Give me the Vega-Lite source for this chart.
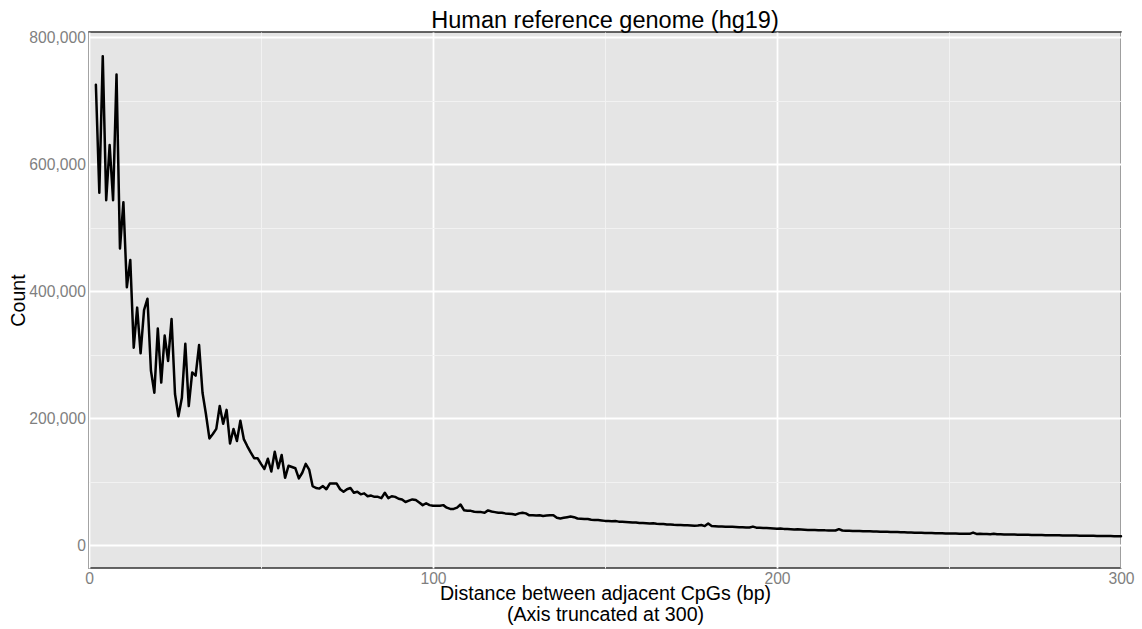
{
  "$schema": "https://vega.github.io/schema/vega-lite/v6.json",
  "width": 1032,
  "height": 536,
  "autosize": {"type": "none"},
  "padding": {"left": 89, "top": 32, "right": 21, "bottom": 61},
  "background": "white",
  "title": {"text": "Human reference genome (hg19)", "fontSize": 23.5, "fontWeight": "normal", "color": "#000000", "anchor": "middle", "frame": "group", "baseline": "alphabetic", "offset": 4, "dy": 26, "font": "Liberation Sans"},
  "config": {
    "font": "Liberation Sans",
    "view": {"fill": "#E5E5E5", "stroke": "#333333", "strokeWidth": 1.5}
  },
  "data": {"values": [
    {"distance": 2, "count": 725000}, {"distance": 3, "count": 555000}, {"distance": 4, "count": 770000}, {"distance": 5, "count": 543000},
    {"distance": 6, "count": 630000}, {"distance": 7, "count": 543000}, {"distance": 8, "count": 741000}, {"distance": 9, "count": 467000},
    {"distance": 10, "count": 540000}, {"distance": 11, "count": 406000}, {"distance": 12, "count": 449000}, {"distance": 13, "count": 311000},
    {"distance": 14, "count": 374000}, {"distance": 15, "count": 302000}, {"distance": 16, "count": 370000}, {"distance": 17, "count": 388000},
    {"distance": 18, "count": 275000}, {"distance": 19, "count": 240000}, {"distance": 20, "count": 341000}, {"distance": 21, "count": 256000},
    {"distance": 22, "count": 330000}, {"distance": 23, "count": 290000}, {"distance": 24, "count": 356000}, {"distance": 25, "count": 238000},
    {"distance": 26, "count": 203000}, {"distance": 27, "count": 232000}, {"distance": 28, "count": 317000}, {"distance": 29, "count": 219000},
    {"distance": 30, "count": 272000}, {"distance": 31, "count": 267000}, {"distance": 32, "count": 315000}, {"distance": 33, "count": 240000},
    {"distance": 34, "count": 206000}, {"distance": 35, "count": 168000}, {"distance": 36, "count": 175000}, {"distance": 37, "count": 183000},
    {"distance": 38, "count": 219000}, {"distance": 39, "count": 191000}, {"distance": 40, "count": 213000}, {"distance": 41, "count": 160000},
    {"distance": 42, "count": 183000}, {"distance": 43, "count": 164000}, {"distance": 44, "count": 196000}, {"distance": 45, "count": 167000},
    {"distance": 46, "count": 156000}, {"distance": 47, "count": 146000}, {"distance": 48, "count": 137000}, {"distance": 49, "count": 137000},
    {"distance": 50, "count": 128000}, {"distance": 51, "count": 120000}, {"distance": 52, "count": 136000}, {"distance": 53, "count": 116000},
    {"distance": 54, "count": 147000}, {"distance": 55, "count": 121000}, {"distance": 56, "count": 142000}, {"distance": 57, "count": 106000},
    {"distance": 58, "count": 125000}, {"distance": 59, "count": 123000}, {"distance": 60, "count": 121000}, {"distance": 61, "count": 105000},
    {"distance": 62, "count": 114000}, {"distance": 63, "count": 128000}, {"distance": 64, "count": 119000}, {"distance": 65, "count": 93000},
    {"distance": 66, "count": 90000}, {"distance": 67, "count": 89000}, {"distance": 68, "count": 93000}, {"distance": 69, "count": 88000},
    {"distance": 70, "count": 97000}, {"distance": 71, "count": 97000}, {"distance": 72, "count": 97000}, {"distance": 73, "count": 88000},
    {"distance": 74, "count": 84000}, {"distance": 75, "count": 88000}, {"distance": 76, "count": 90000}, {"distance": 77, "count": 82500},
    {"distance": 78, "count": 84000}, {"distance": 79, "count": 80000}, {"distance": 80, "count": 81500}, {"distance": 81, "count": 77000},
    {"distance": 82, "count": 78000}, {"distance": 83, "count": 76000}, {"distance": 84, "count": 76000}, {"distance": 85, "count": 74000},
    {"distance": 86, "count": 82500}, {"distance": 87, "count": 74000}, {"distance": 88, "count": 77000}, {"distance": 89, "count": 76000},
    {"distance": 90, "count": 73000}, {"distance": 91, "count": 72000}, {"distance": 92, "count": 68000}, {"distance": 93, "count": 70000},
    {"distance": 94, "count": 72000}, {"distance": 95, "count": 71000}, {"distance": 96, "count": 67000}, {"distance": 97, "count": 63000},
    {"distance": 98, "count": 66000}, {"distance": 99, "count": 63000}, {"distance": 100, "count": 62000}, {"distance": 101, "count": 62000},
    {"distance": 102, "count": 62000}, {"distance": 103, "count": 63000}, {"distance": 104, "count": 59000}, {"distance": 105, "count": 57000},
    {"distance": 106, "count": 57000}, {"distance": 107, "count": 59000}, {"distance": 108, "count": 64000}, {"distance": 109, "count": 55000},
    {"distance": 110, "count": 54000}, {"distance": 111, "count": 54000}, {"distance": 112, "count": 52500}, {"distance": 113, "count": 52000},
    {"distance": 114, "count": 52000}, {"distance": 115, "count": 51000}, {"distance": 116, "count": 54700}, {"distance": 117, "count": 53000},
    {"distance": 118, "count": 52000}, {"distance": 119, "count": 51000}, {"distance": 120, "count": 51000}, {"distance": 121, "count": 50000},
    {"distance": 122, "count": 49500}, {"distance": 123, "count": 49000}, {"distance": 124, "count": 48000}, {"distance": 125, "count": 50000},
    {"distance": 126, "count": 51000}, {"distance": 127, "count": 50000}, {"distance": 128, "count": 47000}, {"distance": 129, "count": 47000},
    {"distance": 130, "count": 46500}, {"distance": 131, "count": 47000}, {"distance": 132, "count": 46000}, {"distance": 133, "count": 46500},
    {"distance": 134, "count": 47000}, {"distance": 135, "count": 47000}, {"distance": 136, "count": 43000}, {"distance": 137, "count": 42000},
    {"distance": 138, "count": 43000}, {"distance": 139, "count": 44000}, {"distance": 140, "count": 45000}, {"distance": 141, "count": 44000},
    {"distance": 142, "count": 42000}, {"distance": 143, "count": 41500}, {"distance": 144, "count": 41000}, {"distance": 145, "count": 41000},
    {"distance": 146, "count": 40000}, {"distance": 147, "count": 39500}, {"distance": 148, "count": 39400}, {"distance": 149, "count": 38800},
    {"distance": 150, "count": 38200}, {"distance": 151, "count": 38000}, {"distance": 152, "count": 37600}, {"distance": 153, "count": 37900},
    {"distance": 154, "count": 37000}, {"distance": 155, "count": 36800}, {"distance": 156, "count": 36500}, {"distance": 157, "count": 36200},
    {"distance": 158, "count": 35600}, {"distance": 159, "count": 35800}, {"distance": 160, "count": 35000}, {"distance": 161, "count": 34900},
    {"distance": 162, "count": 34500}, {"distance": 163, "count": 34000}, {"distance": 164, "count": 34300}, {"distance": 165, "count": 33600},
    {"distance": 166, "count": 33300}, {"distance": 167, "count": 33100}, {"distance": 168, "count": 32600}, {"distance": 169, "count": 32400},
    {"distance": 170, "count": 32000}, {"distance": 171, "count": 31900}, {"distance": 172, "count": 31600}, {"distance": 173, "count": 31300},
    {"distance": 174, "count": 31200}, {"distance": 175, "count": 31000}, {"distance": 176, "count": 30700}, {"distance": 177, "count": 30800},
    {"distance": 178, "count": 31600}, {"distance": 179, "count": 30000}, {"distance": 180, "count": 34000}, {"distance": 181, "count": 30200},
    {"distance": 182, "count": 29800}, {"distance": 183, "count": 29500}, {"distance": 184, "count": 29300}, {"distance": 185, "count": 29100},
    {"distance": 186, "count": 28900}, {"distance": 187, "count": 28800}, {"distance": 188, "count": 28500}, {"distance": 189, "count": 28300},
    {"distance": 190, "count": 28100}, {"distance": 191, "count": 27900}, {"distance": 192, "count": 27800}, {"distance": 193, "count": 29200},
    {"distance": 194, "count": 27500}, {"distance": 195, "count": 27200}, {"distance": 196, "count": 27000}, {"distance": 197, "count": 26800},
    {"distance": 198, "count": 26600}, {"distance": 199, "count": 26200}, {"distance": 200, "count": 25900}, {"distance": 201, "count": 26100},
    {"distance": 202, "count": 25600}, {"distance": 203, "count": 25300}, {"distance": 204, "count": 25100}, {"distance": 205, "count": 24800},
    {"distance": 206, "count": 24900}, {"distance": 207, "count": 24500}, {"distance": 208, "count": 24200}, {"distance": 209, "count": 24000},
    {"distance": 210, "count": 23800}, {"distance": 211, "count": 23700}, {"distance": 212, "count": 23500}, {"distance": 213, "count": 23600},
    {"distance": 214, "count": 23300}, {"distance": 215, "count": 23200}, {"distance": 216, "count": 23000}, {"distance": 217, "count": 23100},
    {"distance": 218, "count": 25200}, {"distance": 219, "count": 23000}, {"distance": 220, "count": 22500}, {"distance": 221, "count": 22600},
    {"distance": 222, "count": 22300}, {"distance": 223, "count": 22100}, {"distance": 224, "count": 22200}, {"distance": 225, "count": 21900},
    {"distance": 226, "count": 21700}, {"distance": 227, "count": 21800}, {"distance": 228, "count": 21500}, {"distance": 229, "count": 21300},
    {"distance": 230, "count": 21200}, {"distance": 231, "count": 21100}, {"distance": 232, "count": 20900}, {"distance": 233, "count": 20800},
    {"distance": 234, "count": 20600}, {"distance": 235, "count": 20500}, {"distance": 236, "count": 20300}, {"distance": 237, "count": 20200},
    {"distance": 238, "count": 20000}, {"distance": 239, "count": 19900}, {"distance": 240, "count": 19700}, {"distance": 241, "count": 19600},
    {"distance": 242, "count": 19400}, {"distance": 243, "count": 19300}, {"distance": 244, "count": 19200}, {"distance": 245, "count": 19000},
    {"distance": 246, "count": 18900}, {"distance": 247, "count": 18800}, {"distance": 248, "count": 18600}, {"distance": 249, "count": 18500},
    {"distance": 250, "count": 18400}, {"distance": 251, "count": 18300}, {"distance": 252, "count": 18200}, {"distance": 253, "count": 18000},
    {"distance": 254, "count": 17900}, {"distance": 255, "count": 17800}, {"distance": 256, "count": 17800}, {"distance": 257, "count": 19800},
    {"distance": 258, "count": 17600}, {"distance": 259, "count": 17800}, {"distance": 260, "count": 17500}, {"distance": 261, "count": 17400},
    {"distance": 262, "count": 17300}, {"distance": 263, "count": 17800}, {"distance": 264, "count": 17100}, {"distance": 265, "count": 17000},
    {"distance": 266, "count": 16900}, {"distance": 267, "count": 16800}, {"distance": 268, "count": 16700}, {"distance": 269, "count": 16600},
    {"distance": 270, "count": 16500}, {"distance": 271, "count": 16400}, {"distance": 272, "count": 16300}, {"distance": 273, "count": 16200},
    {"distance": 274, "count": 16100}, {"distance": 275, "count": 16000}, {"distance": 276, "count": 15900}, {"distance": 277, "count": 15800},
    {"distance": 278, "count": 15700}, {"distance": 279, "count": 15700}, {"distance": 280, "count": 15600}, {"distance": 281, "count": 15500},
    {"distance": 282, "count": 15400}, {"distance": 283, "count": 15300}, {"distance": 284, "count": 15200}, {"distance": 285, "count": 15200},
    {"distance": 286, "count": 15100}, {"distance": 287, "count": 15000}, {"distance": 288, "count": 14900}, {"distance": 289, "count": 14800},
    {"distance": 290, "count": 14700}, {"distance": 291, "count": 14700}, {"distance": 292, "count": 14600}, {"distance": 293, "count": 14500},
    {"distance": 294, "count": 14400}, {"distance": 295, "count": 14400}, {"distance": 296, "count": 14300}, {"distance": 297, "count": 14200},
    {"distance": 298, "count": 14100}, {"distance": 299, "count": 14100}, {"distance": 300, "count": 14000}
  ]},
  "mark": {"type": "line", "color": "#000000", "strokeWidth": 2.5, "strokeJoin": "round", "strokeCap": "round"},
  "encoding": {
    "x": {
      "field": "distance", "type": "quantitative",
      "scale": {"domain": [0, 300], "nice": false, "zero": false},
      "axis": {
        "values": [0, 50, 100, 150, 200, 250, 300],
        "labelExpr": "datum.value % 100 === 0 ? datum.label : ''",
        "labelFlush": false, "labelOverlap": false, "labelBound": false,
        "ticks": false, "domain": false,
        "labelColor": "#7f7f7f", "labelFontSize": 15.7, "labelPadding": 3,
        "gridColor": {"condition": {"test": "datum.value % 100 === 0", "value": "#ffffff"}, "value": "#f2f2f2"},
        "gridWidth": {"condition": {"test": "datum.value % 100 === 0", "value": 1.8}, "value": 1},
        "title": ["Distance between adjacent CpGs (bp)", "(Axis truncated at 300)"],
        "titleFontSize": 19.6, "titleFontWeight": "normal", "titleColor": "#000000",
        "titlePadding": -1, "titleLineHeight": 21
      }
    },
    "y": {
      "field": "count", "type": "quantitative",
      "scale": {"domain": [-36000, 808000], "nice": false, "zero": false},
      "axis": {
        "values": [0, 100000, 200000, 300000, 400000, 500000, 600000, 700000, 800000],
        "format": ",d",
        "labelExpr": "datum.value % 200000 === 0 ? datum.label : ''",
        "labelOverlap": false, "labelBound": false, "labelFlush": false,
        "ticks": false, "domain": false,
        "labelColor": "#7f7f7f", "labelFontSize": 15.7, "labelPadding": 3.5,
        "gridColor": {"condition": {"test": "datum.value % 200000 === 0", "value": "#ffffff"}, "value": "#f2f2f2"},
        "gridWidth": {"condition": {"test": "datum.value % 200000 === 0", "value": 1.8}, "value": 1},
        "title": "Count",
        "titleFontSize": 19.6, "titleFontWeight": "normal", "titleColor": "#000000",
        "titlePadding": 0
      }
    }
  }
}
